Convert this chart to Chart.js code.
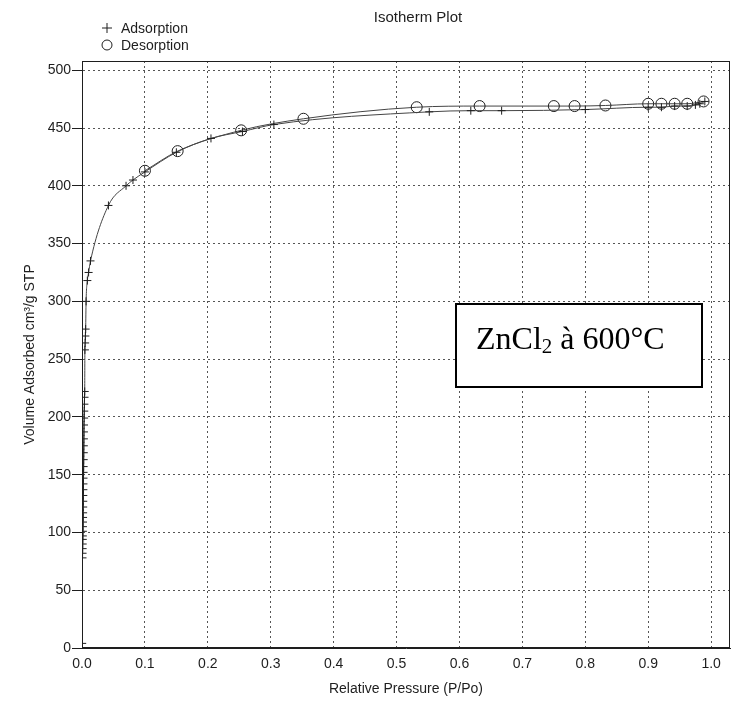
<!DOCTYPE html>
<html>
<head>
<meta charset="utf-8">
<title>Isotherm Plot</title>
<script src="https://cdn.jsdelivr.net/npm/chart.js@4/dist/chart.umd.min.js"></script>
<style>
  html, body { margin: 0; padding: 0; background: #fff; }
</style>
</head>
<body>
<canvas id="iso" width="750" height="713"></canvas>
<script>
// adsorption branch (relative pressure, volume cm3/g STP)
const adsP = [0.0003, 0.0008, 0.0009, 0.0010, 0.0011, 0.0012, 0.0013, 0.0014, 0.0015, 0.0016,
              0.0017, 0.0018, 0.0019, 0.0020, 0.0021, 0.0022, 0.0023, 0.0024, 0.0025, 0.0026,
              0.0027, 0.0028, 0.0029, 0.0030, 0.0031, 0.0032, 0.0034, 0.0036, 0.0038, 0.0040,
              0.0043, 0.0046, 0.0050, 0.0054, 0.0058, 0.0065, 0.0085, 0.0105, 0.0135, 0.042,
              0.070, 0.081, 0.100, 0.150, 0.205, 0.255, 0.305, 0.552, 0.618, 0.667,
              0.800, 0.900, 0.921, 0.942, 0.962, 0.975, 0.982, 0.990];
const adsV = [4, 78, 82, 86, 90, 94, 97, 101, 105, 109,
              113, 117, 122, 127, 132, 137, 142, 147, 152, 157,
              163, 169, 175, 181, 187, 193, 199, 205, 211, 217,
              222, 258, 264, 270, 276, 300, 318, 325, 335, 383,
              400, 405, 412, 429, 441, 447, 453, 464, 465, 465,
              466, 468, 468, 469, 469, 470, 471, 473];

// desorption branch
const desP = [0.100, 0.152, 0.253, 0.352, 0.532, 0.632, 0.750, 0.783, 0.832, 0.900, 0.921, 0.942, 0.962, 0.988];
const desV = [413, 430, 448, 458, 468, 469, 469, 469, 469.5, 471, 471, 471, 471, 473];

const xTicks = [0, 0.1, 0.2, 0.3, 0.4, 0.5, 0.6, 0.7, 0.8, 0.9, 1.0];
const yTicks = [0, 50, 100, 150, 200, 250, 300, 350, 400, 450, 500];

const ink = '#1e1e1e';
const lineInk = '#444';
const sans = '"Liberation Sans", Arial, Helvetica, sans-serif';

const toPts = (xs, ys) => xs.map((x, i) => ({ x: x, y: ys[i] }));

// frame, title, legend and the sample label
const decor = {
  id: 'decor',
  afterDraw(chart) {
    const { ctx, chartArea: a, scales: { x, y } } = chart;
    ctx.save();
    ctx.strokeStyle = ink;
    ctx.lineWidth = 1;
    ctx.strokeRect(Math.round(a.left) + 0.5, Math.round(a.top) + 0.5,
                   Math.round(a.right - a.left) - 1, Math.round(a.bottom - a.top) - 1);

    ctx.fillStyle = ink;
    ctx.font = '15px ' + sans;
    ctx.textAlign = 'center';
    ctx.textBaseline = 'middle';
    ctx.fillText('Isotherm Plot', 418, 18);

    // legend
    ctx.font = '14px ' + sans;
    ctx.textAlign = 'left';
    ctx.strokeStyle = ink;
    ctx.beginPath();
    ctx.moveTo(102, 28); ctx.lineTo(112, 28);
    ctx.moveTo(107, 23); ctx.lineTo(107, 33);
    ctx.stroke();
    ctx.fillText('Adsorption', 121, 29);
    ctx.beginPath();
    ctx.arc(107, 45, 5, 0, Math.PI * 2);
    ctx.stroke();
    ctx.fillText('Desorption', 121, 46);

    // ZnCl2 box
    const bx0 = Math.round(x.getPixelForValue(0.594));
    const bx1 = Math.round(x.getPixelForValue(0.986));
    const by0 = Math.round(y.getPixelForValue(298));
    const by1 = Math.round(y.getPixelForValue(226));
    ctx.fillStyle = '#fff';
    ctx.fillRect(bx0, by0, bx1 - bx0, by1 - by0);
    ctx.lineWidth = 2;
    ctx.strokeStyle = '#000';
    ctx.strokeRect(bx0, by0, bx1 - bx0, by1 - by0);

    ctx.fillStyle = '#000';
    ctx.textBaseline = 'alphabetic';
    let tx = bx0 + 20;
    const base = by0 + 45;
    ctx.font = '32px "Liberation Serif", "Times New Roman", serif';
    ctx.fillText('ZnCl', tx, base);
    tx += ctx.measureText('ZnCl').width;
    ctx.font = '21px "Liberation Serif", "Times New Roman", serif';
    ctx.fillText('2', tx, base + 4);
    tx += ctx.measureText('2').width;
    ctx.font = '32px "Liberation Serif", "Times New Roman", serif';
    ctx.fillText(' à 600°C', tx, base);
    ctx.restore();
  }
};

new Chart(document.getElementById('iso').getContext('2d'), {
  type: 'scatter',
  data: {
    datasets: [
      {
        label: 'Adsorption',
        data: toPts(adsP, adsV),
        showLine: true,
        borderColor: lineInk,
        borderWidth: 1,
        cubicInterpolationMode: 'monotone',
        pointStyle: 'cross',
        pointRadius: 4,
        pointBorderColor: ink,
        pointBorderWidth: 1
      },
      {
        label: 'Desorption',
        data: toPts(desP, desV),
        showLine: true,
        borderColor: lineInk,
        borderWidth: 1,
        cubicInterpolationMode: 'monotone',
        pointStyle: 'circle',
        pointRadius: 5.5,
        pointBackgroundColor: 'rgba(0,0,0,0)',
        pointBorderColor: ink,
        pointBorderWidth: 1
      }
    ]
  },
  options: {
    responsive: false,
    animation: false,
    devicePixelRatio: 1,
    layout: { padding: { top: 61, right: 20, left: 0, bottom: 0 } },
    plugins: {
      legend: { display: false },
      tooltip: { enabled: false },
      title: { display: false }
    },
    scales: {
      x: {
        type: 'linear',
        min: 0,
        max: 1.03,
        afterBuildTicks: s => { s.ticks = xTicks.map(v => ({ value: v })); },
        afterFit: s => { s.height = 65; },
        ticks: {
          color: ink,
          font: { family: sans, size: 14 },
          padding: 8,
          maxRotation: 0,
          callback: v => v.toFixed(1)
        },
        grid: { color: '#555', lineWidth: 1, drawTicks: false },
        border: { color: ink, width: 1, dash: [2, 3] },
        title: {
          display: true,
          text: 'Relative Pressure (P/Po)',
          color: ink,
          font: { family: sans, size: 14 },
          padding: { top: 0, bottom: 15 }
        }
      },
      y: {
        type: 'linear',
        min: 0,
        max: 508,
        afterBuildTicks: s => { s.ticks = yTicks.map(v => ({ value: v })); },
        afterFit: s => { s.width = 82; },
        ticks: {
          color: ink,
          font: { family: sans, size: 14 },
          padding: 1,
          callback: v => String(v)
        },
        grid: { color: '#555', lineWidth: 1, tickLength: 10, tickColor: ink, tickBorderDash: [] },
        border: { color: ink, width: 1, dash: [2, 3] },
        title: {
          display: true,
          text: 'Volume Adsorbed cm³/g STP',
          color: ink,
          font: { family: sans, size: 14 },
          padding: { top: 22, bottom: 0 }
        }
      }
    }
  },
  plugins: [decor]
});
</script>
</body>
</html>
